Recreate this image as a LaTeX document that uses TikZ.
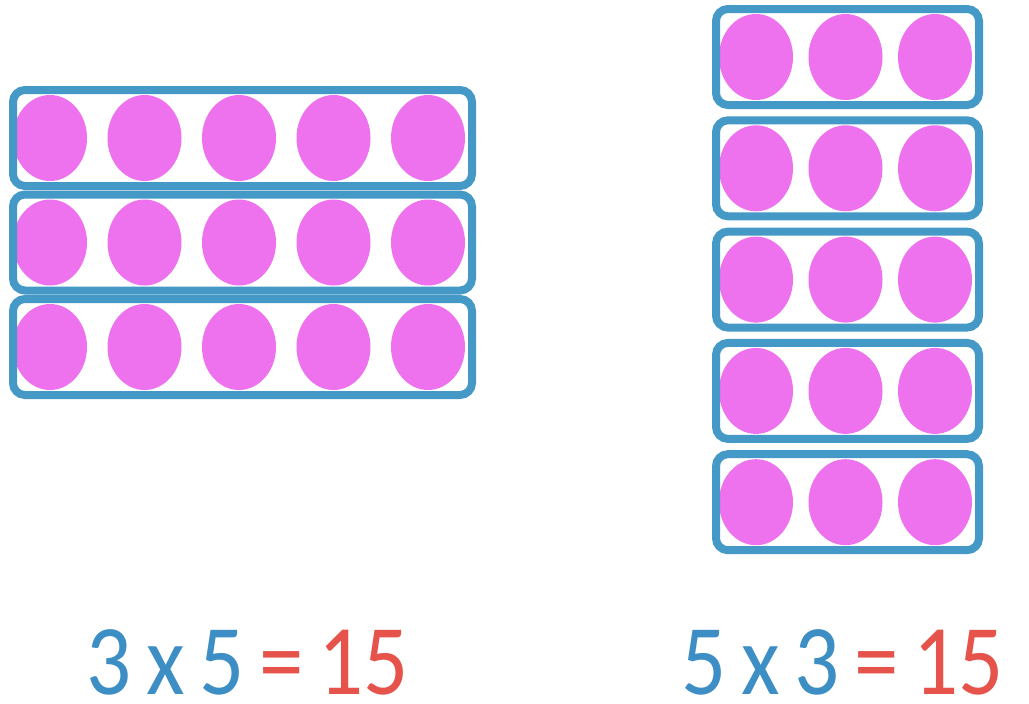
\documentclass[tikz,border=0pt]{standalone}
\usepackage{fontspec}
\setmainfont{Carlito}
\usepackage{tikz}
\usetikzlibrary{positioning}
\definecolor{frameblue}{HTML}{4499C6}
\definecolor{counterpink}{HTML}{EE72EE}
\definecolor{factorblue}{HTML}{3C8EC4}
\definecolor{productred}{HTML}{E5534B}
\tikzset{
  counter/.style={fill=counterpink},
  strip/.style={draw=frameblue, line width=8pt, rounded corners=12pt},
  sumtext/.style={inner sep=0pt, anchor=base west, xscale=0.89,
    font=\fontsize{100}{100}\selectfont}
}

\begin{document}
\begin{tikzpicture}[x=1pt, y=-1pt]
\useasboundingbox[fill=white] (0,0) rectangle (1029,704);
% three rows of five
\foreach \r in {0,1,2}{
  \foreach \c in {0,...,4}
    \fill[counter] (50+94.5*\c,138+104.5*\r) ellipse (37 and 43);
  \draw[strip] (13,90+104.5*\r) rectangle (472,186+104.5*\r);
}
% five rows of three
\foreach \r in {0,...,4}{
  \foreach \c in {0,1,2}
    \fill[counter] (756+89.5*\c,57+111.3*\r) ellipse (37 and 43);
  \draw[strip] (716,9+111.3*\r) rectangle (979,105+111.3*\r);
}
% the two products
\node[sumtext] (lefteq) at (86,694)
  {\textcolor{factorblue}{3\,x\,5}\,\textcolor{productred}{=\,15}};
\node[sumtext] (righteq) at (681,694)
  {\textcolor{factorblue}{5\,x\,3}\,\textcolor{productred}{=\,15}};
\end{tikzpicture}
\end{document}
